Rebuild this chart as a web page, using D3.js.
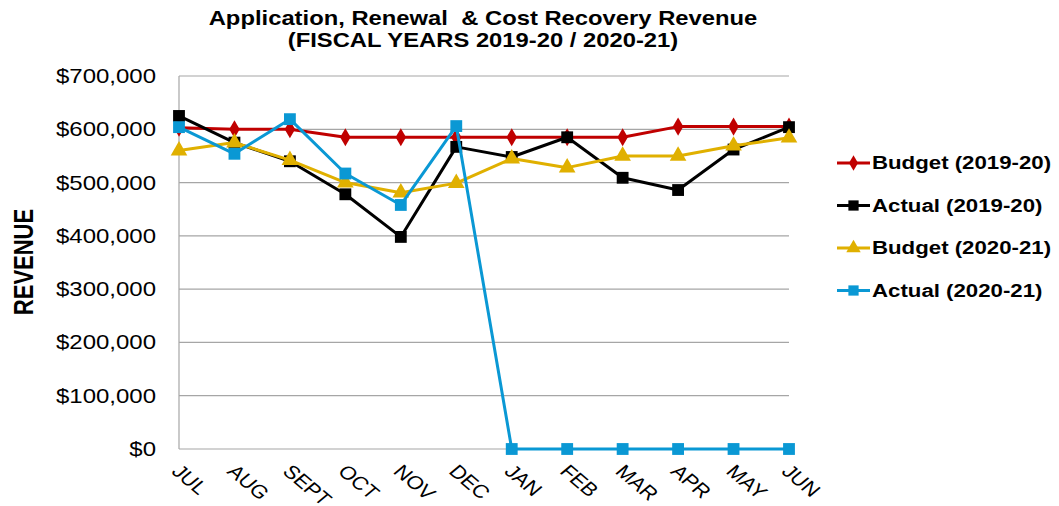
<!DOCTYPE html>
<html><head><meta charset="utf-8">
<script src="https://cdn.jsdelivr.net/npm/d3@7"></script>
<style>body{margin:0;background:#fff}svg{display:block}</style>
</head><body>
<svg id="c" width="1059" height="506"></svg>
<script>
const months = ["JUL","AUG","SEPT","OCT","NOV","DEC","JAN","FEB","MAR","APR","MAY","JUN"];
const budget1920 = [603000,600000,600000,585000,585000,585000,585000,585000,585000,605000,605000,605000];
const actual1920 = [625000,575000,540000,478000,398000,567000,548000,585000,509000,486000,562000,604000];
const budget2021 = [560000,575000,542000,500000,481000,499000,545000,528000,550000,550000,569000,584000];
const actual2021 = [604000,554000,619000,517000,458000,606000,0,0,0,0,0,0];
const yTicks = [0,100000,200000,300000,400000,500000,600000,700000];
const seriesNames = ["Budget (2019-20)","Actual (2019-20)","Budget (2020-21)","Actual (2020-21)"];

const series = [
  {name:seriesNames[0], values:budget1920, color:"#c00000", sym:d3.symbolDiamond, size:95},
  {name:seriesNames[1], values:actual1920, color:"#000000", sym:d3.symbolSquare, size:140},
  {name:seriesNames[2], values:budget2021, color:"#e0b000", sym:d3.symbolTriangle, size:120},
  {name:seriesNames[3], values:actual2021, color:"#0a98d4", sym:d3.symbolSquare, size:140}
];

const svg = d3.select("#c");
const L=179, R=789, T=76, B=449;
const SX = 1.2;
const x = d3.scalePoint().domain(months).range([L,R]);
const y = d3.scaleLinear().domain([0,700000]).range([B,T]);
const font = "'Liberation Sans', Arial, sans-serif";

// gridlines
svg.append("g").selectAll("line").data(yTicks).join("line")
  .attr("x1",L).attr("x2",R).attr("y1",d=>y(d)).attr("y2",d=>y(d))
  .attr("stroke","#a6a6a6").attr("stroke-width",1.2);
svg.append("line").attr("x1",L).attr("x2",L).attr("y1",T).attr("y2",B)
  .attr("stroke","#a6a6a6").attr("stroke-width",1.2);

// y axis labels
const fmt = d3.format(",");
svg.append("g").selectAll("text").data(yTicks).join("text")
  .attr("transform",d=>`translate(156,${y(d)}) scale(${SX},1)`)
  .attr("dy","0.35em")
  .attr("text-anchor","end").attr("font-family",font).attr("font-size",20)
  .attr("fill","#000").text(d=>"$"+fmt(d));

// x labels
svg.append("g").selectAll("text").data(months).join("text")
  .attr("transform",d=>`translate(${x(d)-3},${B+19}) scale(${SX},1) rotate(45)`)
  .attr("text-anchor","start").attr("dy","0.35em")
  .attr("font-family",font).attr("font-size",18.5).attr("fill","#000").text(d=>d);

// title
svg.append("text").attr("transform",`translate(483,25) scale(1.22,1)`).attr("text-anchor","middle")
  .attr("font-family",font).attr("font-weight","bold").attr("font-size",19.5)
  .attr("xml:space","preserve").text("Application, Renewal  & Cost Recovery Revenue");
svg.append("text").attr("transform",`translate(483,47) scale(1.22,1)`).attr("text-anchor","middle")
  .attr("font-family",font).attr("font-weight","bold").attr("font-size",19.5)
  .text("(FISCAL YEARS 2019-20 / 2020-21)");

// y title
svg.append("text").attr("transform","translate(23,262) scale(1.25,1) rotate(-90)")
  .attr("text-anchor","middle").attr("dy","0.35em")
  .attr("font-family",font).attr("font-weight","bold").attr("font-size",22)
  .text("REVENUE");

// lines
const line = d3.line().x((d,i)=>x(months[i])).y(d=>y(d));
series.forEach(s=>{
  svg.append("path").datum(s.values).attr("d",line)
    .attr("fill","none").attr("stroke",s.color).attr("stroke-width",3)
    .attr("stroke-linejoin","round");
  svg.append("g").selectAll("path").data(s.values).join("path")
    .attr("transform",(d,i)=>`translate(${x(months[i])},${y(d)})`)
    .attr("d",d3.symbol().type(s.sym).size(s.size)).attr("fill",s.color);
});

// legend
const lg = svg.append("g");
series.forEach((s,i)=>{
  const yy = 163 + i*42.5;
  lg.append("line").attr("x1",837).attr("x2",870).attr("y1",yy).attr("y2",yy)
    .attr("stroke",s.color).attr("stroke-width",3);
  lg.append("path").attr("transform",`translate(853.5,${yy})`)
    .attr("d",d3.symbol().type(s.sym).size(s.size*0.75)).attr("fill",s.color);
  lg.append("text").attr("transform",`translate(872,${yy}) scale(1.27,1)`).attr("dy","0.36em")
    .attr("font-family",font).attr("font-weight","bold").attr("font-size",17.5)
    .text(s.name);
});
</script>
</body></html>
